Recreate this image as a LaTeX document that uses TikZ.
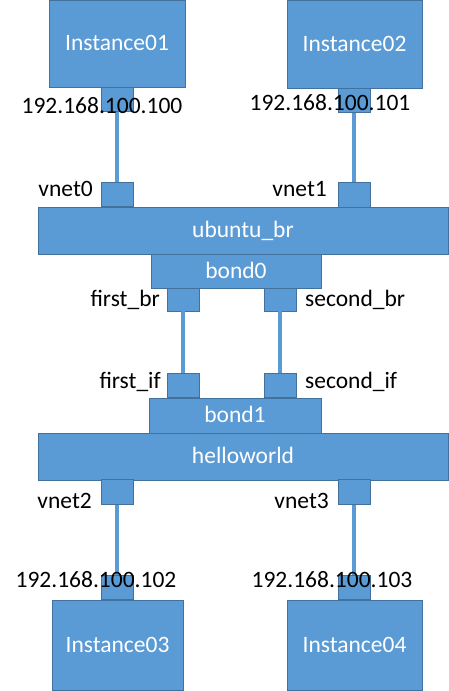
\documentclass[tikz,border=0pt]{standalone}
\usepackage{fontspec}
\setmainfont{Carlito}
\definecolor{boxblue}{HTML}{5B9BD5}
\definecolor{boxline}{HTML}{41719C}
\begin{document}
\begin{tikzpicture}[x=1pt,y=-1pt,
  box/.style={draw=boxline, fill=boxblue, line width=0.9pt, inner sep=0pt,
    text=white, text height=14pt, text depth=0pt,
    font=\fontsize{23.5}{28}\selectfont},
  port/.style={draw=boxline, fill=boxblue, line width=0.9pt, inner sep=0pt,
    minimum width=32pt, minimum height=24.5pt},
  link/.style={draw=boxblue, line width=3.5pt},
  lbl/.style={inner sep=0pt, text=black, font=\fontsize{23.5}{28}\selectfont}]
\useasboundingbox (0,0) rectangle (449,691);
% boxes
\node[box, minimum width=136pt, minimum height=87pt] (i1) at (117,43.5) {Instance01};
\node[box, minimum width=135pt, minimum height=88pt] (i2) at (354.5,44) {Instance02};
\node[port] (p1) at (117,99.5) {};
\node[port] (p2) at (354,100.5) {};
\node[port] (v0) at (117,194.5) {};
\node[port] (v1) at (354,195) {};
\node[box, minimum width=410pt, minimum height=47pt] (ub) at (243,230.5) {ubuntu\_br};
\node[box, minimum width=170pt, minimum height=34pt] (b0) at (236,271) {bond0};
\node[port, minimum height=23pt] (fb) at (183,299.5) {};
\node[port, minimum height=23pt] (sb) at (280,299.5) {};
\node[port] (fi) at (183,385.5) {};
\node[port] (si) at (280,385.5) {};
\node[box, minimum width=172pt, minimum height=35pt] (b1) at (235,415.5) {bond1};
\node[box, minimum width=410pt, minimum height=47pt] (hw) at (243,456.5) {helloworld};
\node[port] (v2) at (117,492) {};
\node[port] (v3) at (354,492) {};
\node[port] (p3) at (117,587.5) {};
\node[port] (p4) at (354,587.5) {};
\node[box, minimum width=131pt, minimum height=90pt] (i3) at (117.5,645) {Instance03};
\node[box, minimum width=135pt, minimum height=90pt] (i4) at (354.5,645) {Instance04};
% links
\draw[link] (p1) -- (v0);
\draw[link] (p2) -- (v1);
\draw[link] (fb) -- (fi);
\draw[link] (sb) -- (si);
\draw[link] (v2) -- (p3);
\draw[link] (v3) -- (p4);
% labels
\node[lbl, anchor=base] (ip0) at (102,113) {192.168.100.100};
\node[lbl, anchor=base] (ip1) at (330,110) {192.168.100.101};
\node[lbl, anchor=base] (ip2) at (96,587) {192.168.100.102};
\node[lbl, anchor=base] (ip3) at (332,587) {192.168.100.103};
\node[lbl, anchor=base east] (lv0) at (93,196) {vnet0};
\node[lbl, anchor=base east] (lv1) at (327,196) {vnet1};
\node[lbl, anchor=base east] (lfb) at (160,306) {first\_br};
\node[lbl, anchor=base west] (lsb) at (305,306.5) {second\_br};
\node[lbl, anchor=base east] (lfi) at (161,388) {first\_if};
\node[lbl, anchor=base west] (lsi) at (305,388) {second\_if};
\node[lbl, anchor=base east] (lv2) at (92,508) {vnet2};
\node[lbl, anchor=base east] (lv3) at (329,508) {vnet3};
\end{tikzpicture}
\end{document}
